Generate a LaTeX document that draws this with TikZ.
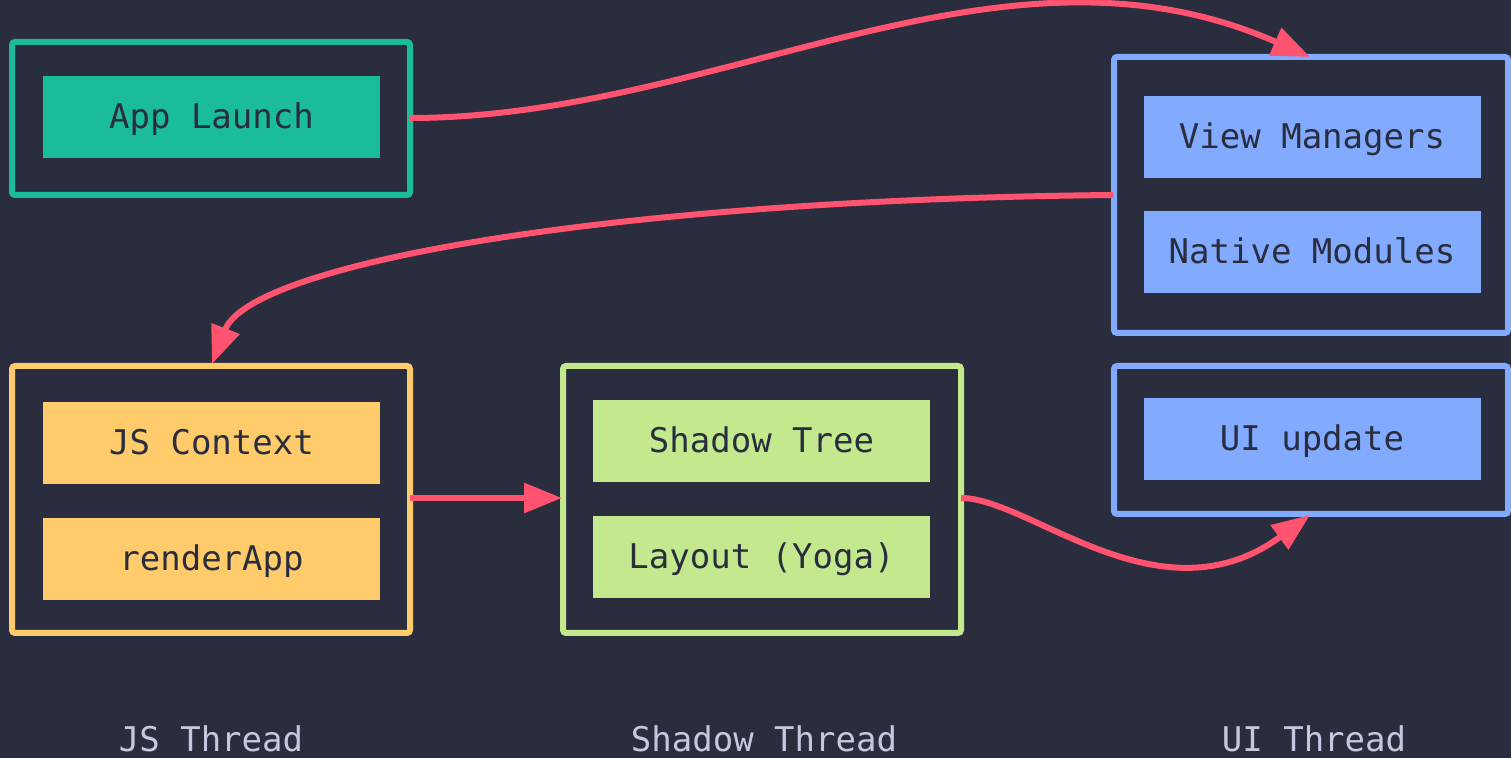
\documentclass[tikz,border=0pt]{standalone}
\usepackage{fontspec}
\setmonofont{DejaVu Sans Mono}
\usetikzlibrary{arrows.meta}
\definecolor{bg}{HTML}{2A2D3E}
\definecolor{teal}{HTML}{1ABC9C}
\definecolor{blu}{HTML}{82AAFF}
\definecolor{yel}{HTML}{FFCB6B}
\definecolor{grn}{HTML}{C3E88D}
\definecolor{red}{HTML}{FF5370}
\definecolor{lbl}{HTML}{C5C8E0}
\tikzset{
  outerbox/.style={draw=#1, line width=3pt, rounded corners=1.5pt, inner sep=0pt},
  innerbox/.style={fill=#1, draw=none, inner sep=0pt, minimum width=168.5pt, minimum height=41pt,
     font=\ttfamily\fontsize{17}{20}\selectfont, text=bg, text height=1.45em, text depth=0.27em},
  lab/.style={font=\ttfamily\fontsize{17}{20}\selectfont, text=lbl, inner sep=0pt, text height=1.45em, text depth=0.27em},
  conn/.style={draw=red, line width=3pt, -{Triangle[length=19pt,width=14.5pt]}},
}
\begin{document}
\begin{tikzpicture}[x=0.5pt,y=-0.5pt]
\fill[bg] (0,0) rectangle (1511,758);
\useasboundingbox (0,0) rectangle (1511,758);
% outer boxes
\draw[outerbox=teal] (12,42) rectangle (410,195);
\coordinate (appE) at (410,118);
\draw[outerbox=blu] (1114,57) rectangle (1508,333);
\coordinate (uiN) at (1310,57);
\coordinate (uiW) at (1113,195);
\draw[outerbox=blu] (1114,366) rectangle (1508,514);
\coordinate (updS) at (1310,515);
\draw[outerbox=yel] (12,366) rectangle (410,633);
\coordinate (jsN) at (212,364);
\coordinate (jsE) at (410,498);
\draw[outerbox=grn] (563,366) rectangle (961,633);
\coordinate (shW) at (562,498);
\coordinate (shE) at (961,498);
% inner boxes
\node[innerbox=teal] (app) at (211.5,117) {App Launch};
\node[innerbox=blu] (vm) at (1312,137) {View Managers};
\node[innerbox=blu] (nm) at (1312,252) {Native Modules};
\node[innerbox=blu] (upd) at (1312,439) {UI update};
\node[innerbox=yel] (jsc) at (211.5,443) {JS Context};
\node[innerbox=yel] (ren) at (211.5,559) {renderApp};
\node[innerbox=grn] (st) at (761.5,441) {Shadow Tree};
\node[innerbox=grn] (lay) at (761.5,557) {Layout (Yoga)};
% labels
\node[lab] (l1) at (211,740) {JS Thread};
\node[lab] (l2) at (764,740) {Shadow Thread};
\node[lab] (l3) at (1314,740) {UI Thread};
% connectors
\draw[conn] (appE) .. controls (720,118) and (1000,-80) .. (uiN);
\draw[conn] (uiW) .. controls (600,200) and (250,265) .. (jsN);
\draw[conn] (jsE) -- (shW);
\draw[conn] (shE) .. controls (1030,498) and (1160,625) .. (updS);
\end{tikzpicture}
\end{document}
